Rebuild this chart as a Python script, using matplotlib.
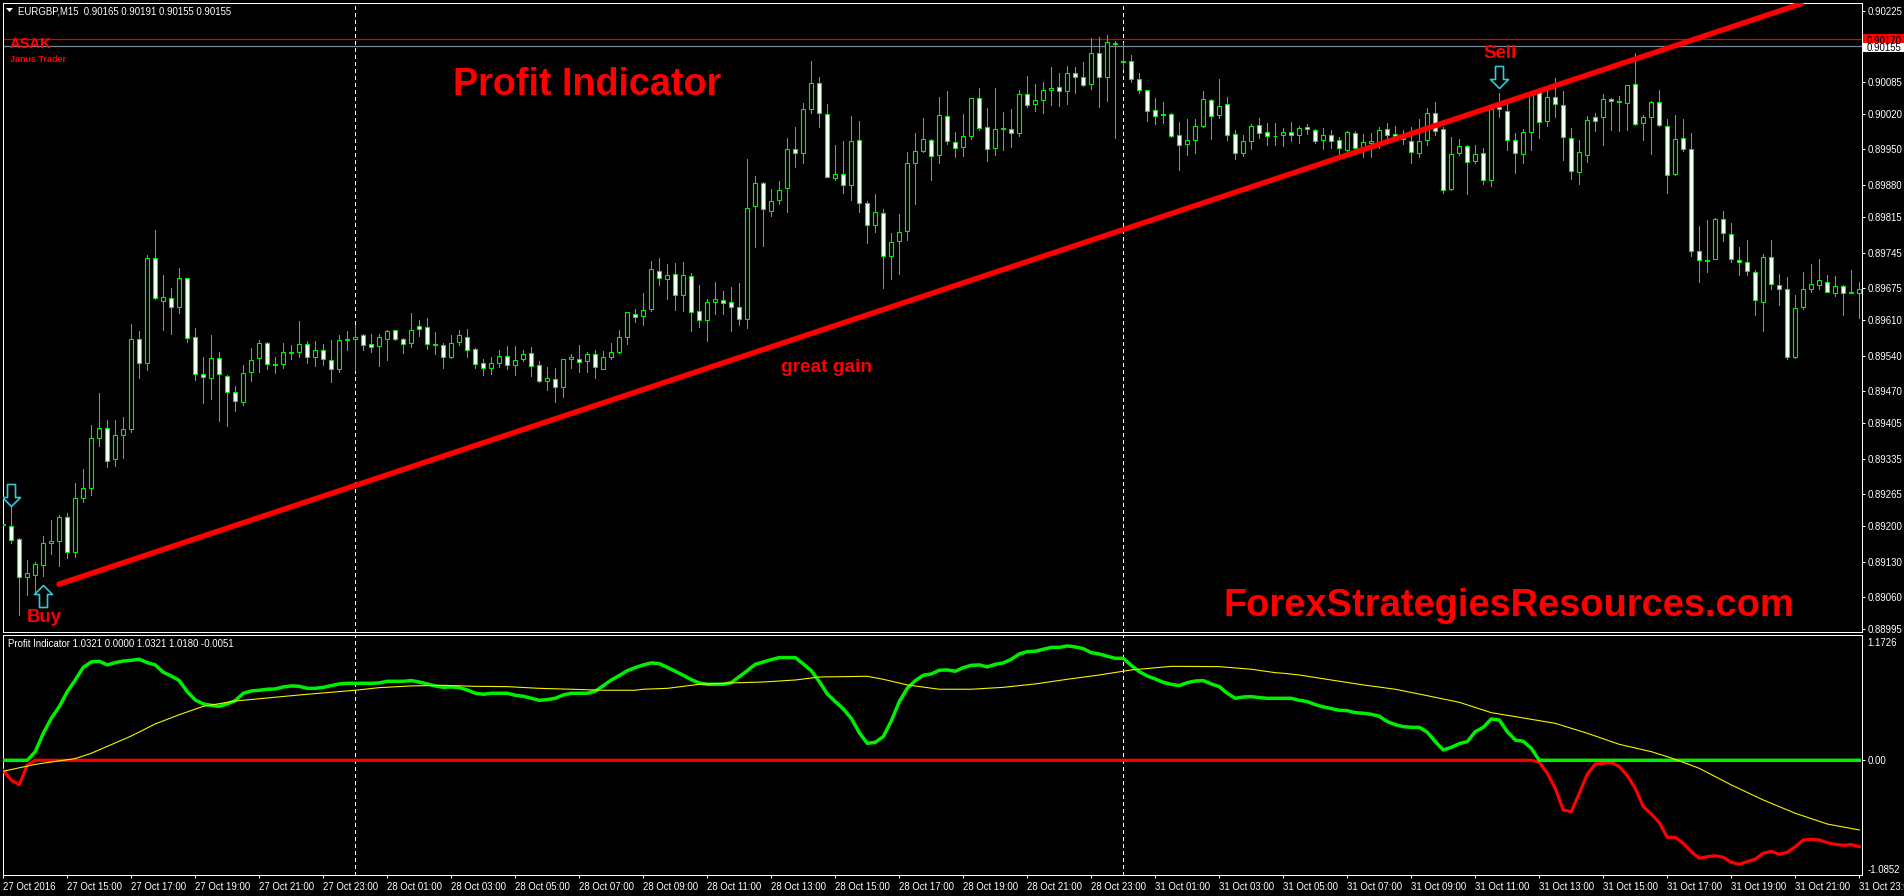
import numpy as np
import matplotlib
matplotlib.use("Agg")
import matplotlib.pyplot as plt
from matplotlib.path import Path
from matplotlib.patches import Rectangle, Polygon

W, H = 1904, 896
WIDE = ['Liberation Sans', 'DejaVu Sans']
plt.rcParams['font.family'] = WIDE

# ---- price data, in units of 0.00001 ----
opens = [
89202,89200,89174,89099,89104,89124,89167,89170,89218,89149,
89256,89276,89375,89395,89334,89381,89393,89572,89525,89735,
89649,89654,89637,89694,89576,89503,89495,89535,89499,89467,
89448,89507,89535,89565,89523,89523,89546,89547,89563,89537,
89551,89531,89513,89571,89572,89580,89563,89559,89572,89590,
89572,89565,89598,89596,89563,89561,89537,89567,89576,89553,
89525,89515,89525,89539,89521,89533,89545,89521,89489,89493,
89478,89534,89534,89529,89543,89514,89537,89548,89576,89622,
89618,89632,89708,89692,89702,89660,89698,89628,89610,89647,
89650,89646,89636,89612,89837,89883,89827,89849,89873,89950,
89943,90030,90082,90020,89893,89901,89879,89968,89843,89799,
89823,89738,89767,89787,89923,89948,89968,89939,90016,89964,
89954,89976,90052,89994,89952,89990,89990,89982,90060,90040,
90048,90068,90074,90066,90102,90094,90080,90143,90095,90161,
90125,90127,90090,90068,90028,90020,90020,89978,89960,89968,
89996,90048,90018,90040,89980,89944,89966,89998,89984,89977,
89978,89984,89978,89994,89988,89968,89978,89968,89949,89982,
89950,89963,89962,89990,89980,89972,89966,89944,89968,90022,
89990,89871,89944,89956,89928,89944,89889,90034,90026,89968,
89942,89984,90064,90006,90054,90038,89972,89905,89940,90014,
90014,90050,90046,90042,90080,90002,90014,90044,89996,89901,
89972,89950,89749,89731,89733,89811,89781,89731,89727,89707,
89647,89737,89681,89673,89538,89636,89673,89681,89687,89665,
89679,89665,89664]
closes = [
89205,89172,89099,89107,89125,89167,89171,89218,89149,89256,
89276,89375,89395,89331,89381,89393,89572,89525,89735,89654,
89656,89636,89694,89574,89503,89497,89535,89503,89467,89449,
89505,89531,89565,89523,89522,89547,89547,89563,89537,89551,
89533,89513,89571,89572,89576,89561,89557,89576,89588,89572,
89563,89590,89592,89563,89561,89537,89565,89580,89551,89523,
89515,89525,89539,89521,89531,89543,89519,89489,89495,89477,
89534,89537,89527,89543,89517,89537,89547,89576,89626,89616,
89630,89712,89694,89700,89660,89700,89626,89610,89646,89652,
89644,89636,89612,89833,89883,89831,89847,89869,89950,89943,
90030,90082,90022,89895,89901,89879,89966,89843,89799,89825,
89738,89765,89785,89923,89948,89970,89937,90018,89966,89952,
89976,90052,89992,89950,89990,89992,89982,90060,90038,90048,
90068,90072,90066,90102,90094,90078,90143,90095,90163,90159,
90126,90090,90068,90026,90016,90019,89976,89958,89968,89996,
90050,90016,90036,89978,89944,89966,89996,89982,89976,89976,
89984,89978,89992,89990,89966,89978,89966,89952,89984,89952,
89964,89966,89988,89978,89977,89970,89946,89966,90022,89986,
89869,89942,89956,89926,89942,89889,90030,90030,89968,89944,
89984,90062,90004,90054,90040,89974,89907,89946,90008,90006,
90050,90046,90044,90078,90000,90014,90044,89998,89899,89970,
89950,89749,89731,89729,89811,89783,89733,89727,89709,89651,
89737,89683,89673,89538,89634,89672,89683,89690,89667,89679,
89665,89666,89673]
highs = [
89236,89239,89176,89133,89129,89181,89213,89222,89226,89286,
89314,89401,89465,89412,89412,89417,89603,89588,89741,89790,
89700,89674,89715,89694,89594,89537,89581,89547,89501,89480,
89521,89555,89570,89567,89537,89565,89561,89609,89569,89569,
89563,89571,89581,89589,89601,89583,89583,89583,89591,89591,
89575,89625,89611,89615,89586,89565,89581,89591,89592,89555,
89534,89537,89551,89559,89559,89551,89556,89529,89517,89515,
89534,89543,89560,89547,89551,89549,89564,89591,89627,89632,
89664,89728,89734,89722,89724,89726,89704,89680,89652,89686,
89668,89676,89684,89931,89897,89885,89872,89888,89972,89994,
90042,90126,90094,90040,89958,89966,90016,90006,89847,89862,
89831,89783,89821,89945,89982,90012,89970,90054,90066,89984,
90021,90052,90072,90033,90072,90025,90030,90068,90096,90080,
90084,90114,90102,90116,90114,90124,90172,90174,90178,90165,
90161,90139,90102,90068,90052,90044,90022,90005,90010,90010,
90066,90050,90090,90054,89988,89978,90000,90012,90002,90002,
89992,90005,89996,90000,89990,89992,89988,89974,89986,89986,
89980,89982,89994,90002,89996,89988,89994,90010,90032,90044,
89994,89974,89970,89959,89959,89952,90030,90062,90042,89982,
89990,90062,90065,90068,90092,90066,89992,89969,90016,90022,
90060,90052,90056,90078,90143,90018,90046,90068,90010,90018,
90010,89982,89797,89810,89813,89827,89803,89755,89769,89711,
89743,89769,89703,89697,89660,89707,89723,89733,89701,89699,
89681,89711,89687]
lows = [
89176,89167,89024,89064,89067,89102,89145,89121,89137,89140,
89249,89263,89360,89319,89321,89336,89387,89496,89511,89652,
89590,89583,89625,89566,89492,89446,89454,89410,89399,89429,
89442,89490,89508,89513,89506,89516,89533,89538,89525,89520,
89521,89488,89508,89551,89511,89551,89548,89519,89531,89570,
89546,89557,89578,89553,89543,89516,89535,89561,89538,89516,
89501,89503,89518,89514,89501,89530,89499,89488,89472,89448,
89458,89515,89507,89507,89495,89513,89533,89546,89563,89607,
89601,89629,89681,89653,89631,89629,89588,89596,89568,89623,
89623,89588,89601,89594,89755,89757,89818,89842,89826,89915,
89924,90022,89994,89895,89889,89864,89850,89826,89763,89785,
89675,89693,89702,89770,89842,89945,89889,89923,89961,89935,
89937,89970,89989,89927,89939,89949,89955,89977,90035,90027,
90023,90038,90036,90041,90063,90076,90070,90035,90047,89973,
90111,90085,90062,90007,90001,90002,89974,89909,89939,89943,
89995,89971,90013,89969,89931,89937,89951,89973,89959,89959,
89957,89967,89962,89981,89963,89951,89953,89939,89942,89949,
89935,89935,89952,89972,89969,89961,89923,89935,89959,89979,
89863,89869,89939,89862,89924,89882,89878,90015,89949,89904,
89924,89949,89973,89997,90015,89929,89891,89882,89925,89987,
89959,89989,89987,89989,89999,89969,89941,89997,89863,89900,
89947,89738,89686,89706,89733,89768,89726,89700,89700,89620,
89589,89672,89640,89533,89536,89633,89666,89672,89667,89659,
89620,89664,89614]

# ---- indicator ----
green_line = [
0,0,0,0,.086,.269,.418,.534,.683,.799,
.925,.979,.985,.949,.972,.988,.995,1.005,.972,.949,
.876,.839,.793,.683,.600,.561,.547,.537,.561,.594,
.667,.690,.697,.707,.710,.730,.740,.736,.716,.716,
.726,.743,.760,.766,.766,.766,.766,.770,.786,.786,
.786,.793,.779,.760,.740,.726,.730,.723,.700,.667,
.657,.667,.667,.667,.647,.637,.617,.597,.604,.617,
.650,.667,.667,.667,.687,.743,.799,.843,.892,.922,
.949,.969,.962,.925,.886,.846,.803,.770,.756,.756,
.756,.773,.833,.892,.955,.979,1.002,1.022,1.022,1.022,
.959,.892,.783,.660,.584,.511,.418,.275,.169,.179,
.236,.391,.584,.716,.793,.846,.859,.896,.899,.886,
.922,.945,.949,.929,.955,.969,1.005,1.058,1.081,1.085,
1.105,1.124,1.124,1.138,1.128,1.111,1.071,1.058,1.035,1.015,
1.015,.945,.882,.839,.809,.776,.756,.743,.773,.789,
.793,.760,.733,.667,.617,.630,.634,.624,.617,.617,
.617,.617,.597,.584,.554,.531,.514,.498,.494,.474,
.468,.458,.438,.385,.355,.335,.328,.328,.279,.186,
.103,.129,.166,.186,.285,.328,.411,.401,.285,.202,
.189,.119] + [0.0] * 41
red_line = [-.103,-.196,-.242,-.046] + [0.0] * 188 + [
-.020,-.129,-.280,-.494,-.511,-.328,-.139,-.036,-.030,-.020,
-.063,-.153,-.279,-.461,-.534,-.620,-.766,-.766,-.826,-.909,
-.975,-.959,-.949,-.965,-1.015,-1.035,-1.008,-.982,-.925,-.906,
-.935,-.915,-.859,-.793,-.786,-.793,-.819,-.836,-.846,-.839,-.859]
yellow_bars = [0,4,9,11,13,16,19,22,25,29,33,37,41,44,47,51,55,59,63,67,71,75,79,
               80,83,87,91,95,99,102,108,110,113,117,121,125,129,133,137,141,146,152,156,159,
               160,162,166,170,174,178,182,186,190,194,198,202,206,208,210,212,216,220,224,228,232]
yellow_line = [-.109,-.040,.017,.070,.139,.242,.362,.454,.537,.590,.620,.650,.677,.697,.723,.740,.746,.736,.733,.716,.707,.697,.697,
               .707,.716,.756,.770,.779,.799,.829,.836,.806,.750,.707,.707,.726,.760,.806,.849,.899,.935,.932,.906,.872,
               .866,.849,.799,.750,.707,.643,.577,.474,.421,.368,.269,.159,.086,.036,-.020,-.080,-.245,-.395,-.527,-.634,-.693]

# ---- labels ----
date_labels = ["27 Oct 2016", "27 Oct 15:00", "27 Oct 17:00", "27 Oct 19:00", "27 Oct 21:00", "27 Oct 23:00",
               "28 Oct 01:00", "28 Oct 03:00", "28 Oct 05:00", "28 Oct 07:00", "28 Oct 09:00", "28 Oct 11:00",
               "28 Oct 13:00", "28 Oct 15:00", "28 Oct 17:00", "28 Oct 19:00", "28 Oct 21:00", "28 Oct 23:00",
               "31 Oct 01:00", "31 Oct 03:00", "31 Oct 05:00", "31 Oct 07:00", "31 Oct 09:00", "31 Oct 11:00",
               "31 Oct 13:00", "31 Oct 15:00", "31 Oct 17:00", "31 Oct 19:00", "31 Oct 21:00", "31 Oct 23:00"]
price_ticks = [0.90225, 0.90085, 0.90020, 0.89950, 0.89880, 0.89815, 0.89745, 0.89675, 0.89610, 0.89540,
               0.89470, 0.89405, 0.89335, 0.89265, 0.89200, 0.89130, 0.89060, 0.88995]
ind_ticks = [1.1726, 0.0, -1.0852]
ind_tick_labels = ["1.1726", "0.00", "-1.0852"]
separator_bars = [44, 140]
bid_level, ask_level = 0.90155, 0.90170
trend_bars = [6.96, 224.7]
trend_prices = [0.89085, 0.90240]
buy_arrow = (5, 0.890605)
sell_arrows_bars = [1, 187]
sell_arrows_prices = [0.892625, 0.90094]

GREEN = '#00f000'
RED = '#ff0000'
FS_SMALL = 6.9

def fx(x): return x / W
def fy(y): return 1 - y / H

def make_axes(fig, top, bottom, left=2.5, right=1861.5):
    return fig.add_axes([fx(left), fy(bottom), (right - left) / W, (bottom - top) / H], facecolor='black')

fig = plt.figure(figsize=(W / 100, H / 100), dpi=100, facecolor='black')
ax = make_axes(fig, 2.5, 632.3)
ax2 = make_axes(fig, 634.7, 875)

xlim = ((2.5 - 3.3) / 8, (1861.5 - 3.3) / 8)
for a in (ax, ax2):
    a.set_xlim(*xlim)
    for s in a.spines.values():
        s.set_color('white')
        s.set_linewidth(0.72)
    a.yaxis.tick_right()
    a.tick_params(axis='y', colors='white', length=2.2, width=0.72, pad=2, labelsize=FS_SMALL)
    for b in separator_bars:
        a.axvline(b, color='white', lw=0.72, ls=(0, (3, 3)), zorder=1.5, antialiased=False)

# price panel
ax.set_ylim((90247.5 - 1.99 * 632.3) / 1e5, (90247.5 - 1.99 * 2.5) / 1e5)
ax.set_xticks([])
ax.set_yticks(price_ticks)
ax.set_yticklabels([f"{p:.5f}" for p in price_ticks])

x = np.arange(len(opens))
o, c, h, l = [np.array(v) / 1e5 for v in (opens, closes, highs, lows)]
ax.axhline(ask_level, color='#e00000', lw=0.9, zorder=1)
ax.axhline(bid_level, color='#778899', lw=0.9, zorder=1)
ax.vlines(x, l, h, color=GREEN, lw=0.72, zorder=2, antialiased=False)
bull = c >= o
ax.bar(x[bull], (c - o)[bull], bottom=o[bull], width=0.5, facecolor='black', edgecolor=GREEN, linewidth=0.8, zorder=3)
ax.bar(x[~bull], (o - c)[~bull], bottom=c[~bull], width=0.5, facecolor='white', edgecolor=GREEN, linewidth=0.8, zorder=3)
ax.plot(trend_bars, trend_prices, color=RED, lw=3.9, solid_capstyle='round', zorder=4)

up = Path([(0, 11), (9, 2), (4, 2), (4, -11), (-4, -11), (-4, 2), (-9, 2), (0, 11)], closed=True)
down = Path([(0, -11), (9, -2), (4, -2), (4, 11), (-4, 11), (-4, -2), (-9, -2), (0, -11)], closed=True)
ax.plot([buy_arrow[0]], [buy_arrow[1]], marker=up, ms=15.84, mfc='none', mec='#35c8d8', mew=1.2, ls='none', zorder=5)
ax.plot(sell_arrows_bars, sell_arrows_prices, marker=down, ms=15.84, mfc='none', mec='#35c8d8', mew=1.2, ls='none', zorder=5)

# indicator panel
ax2.set_ylim((760.3 - 875) * 0.00995, (760.3 - 634.7) * 0.00995)
ax2.plot(x, red_line, color=RED, lw=2.3, zorder=3, solid_joinstyle='round')
ax2.plot(x, green_line, color=GREEN, lw=2.5, zorder=3, solid_joinstyle='round')
ax2.plot(yellow_bars, yellow_line, color='#f4f400', lw=0.8, zorder=4)
ax2.set_yticks(ind_ticks)
ax2.set_yticklabels(ind_tick_labels)
for t in (ax2.yaxis.get_major_ticks()[0], ax2.yaxis.get_major_ticks()[2]):
    t.tick2line.set_visible(False)
ax2.set_xticks(np.arange(0, len(opens), 8))
ax2.set_xticklabels(date_labels, ha='left')
ax2.tick_params(axis='x', colors='white', length=2.5, width=0.72, pad=2.5, labelsize=FS_SMALL)

# text overlays
def T(px, py, s, size, color=RED, weight='bold', family=WIDE, **kw):
    fig.text(fx(px), fy(py), s, fontsize=size, color=color, fontweight=weight, family=family, va='baseline', zorder=6, **kw)

fig.add_artist(Polygon([[fx(6), fy(8)], [fx(13), fy(8)], [fx(9.5), fy(12)]], closed=True, fc='white', ec='none', transform=fig.transFigure))
T(18, 14, "EURGBP,M15  0.90165 0.90191 0.90155 0.90155", FS_SMALL, color='white', weight='normal')
T(10, 47.5, "ASAK", 10.5)
T(9.5, 62, "Janus Trader", 6.5)
T(453, 95, "Profit Indicator", 27.2)
T(781, 372, "great gain", 13.8)
T(27, 621.5, "Buy", 13.3)
T(1483, 58, "Sell", 13.5)
T(1223, 616.5, "ForexStrategiesResources.com", 27.4)
T(8, 646.5, "Profit Indicator 1.0321 0.0000 1.0321 1.0180 -0.0051", FS_SMALL, color='white', weight='normal')

fig.add_artist(Rectangle((fx(1863), fy(43)), 41 / W, 9 / H, fc=RED, ec='none', transform=fig.transFigure, zorder=5))
T(1867, 43.5, "0.90170", FS_SMALL, color='black', weight='normal')
fig.add_artist(Rectangle((fx(1863), fy(52)), 41 / W, 9 / H, fc='white', ec='none', transform=fig.transFigure, zorder=5.5))
T(1867, 51, "0.90155", FS_SMALL, color='black', weight='normal')

fig.savefig('out.png', dpi=100, facecolor='black')
